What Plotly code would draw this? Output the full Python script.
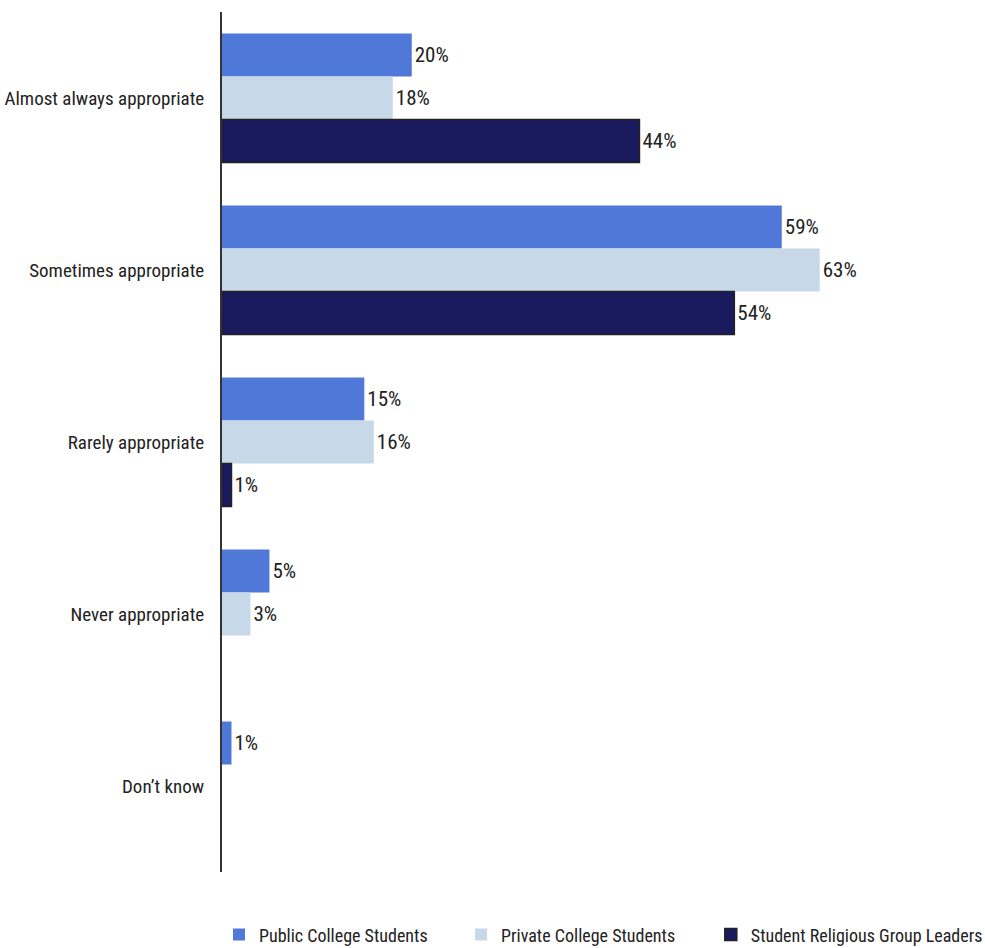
import plotly.graph_objects as go

categories = ["Almost always appropriate", "Sometimes appropriate", "Rarely appropriate",
              "Never appropriate", "Don\u2019t know"]
public_students = [20, 59, 15, 5, 1]
private_students = [18, 63, 16, 3, None]
religious_leaders = [44, 54, 1, None, None]

# name, values, fill, outline, outline width, legend id, legend x
series = [
    ("Public College Students", public_students, "#4F78D8", "#4F78D8", 0, "legend", -0.004),
    ("Private College Students", private_students, "#C7D9E8", "#C7D9E8", 0, "legend2", 0.315),
    ("Student Religious Group Leaders", religious_leaders, "#1A1A5E", "#222222", 1.5, "legend3", 0.644),
]

FONT = "Roboto Condensed, Liberation Sans Narrow, sans-serif"

fig = go.Figure()
legends = {}
for name, vals, color, line_color, lw, leg, lx in series:
    fig.add_trace(go.Bar(
        name=name,
        y=categories,
        x=vals,
        orientation="h",
        marker=dict(color=color, line=dict(color=line_color, width=lw)),
        text=[f"{v}%" if v is not None else "" for v in vals],
        textposition="outside",
        textfont=dict(family=FONT, size=21, color="#222222"),
        cliponaxis=False,
        legend=leg,
    ))
    legends[leg] = dict(
        orientation="h",
        x=lx, xanchor="left",
        y=-0.073, yanchor="middle",
        font=dict(family=FONT, size=18, color="#222222"),
        itemwidth=30,
        bgcolor="rgba(0,0,0,0)",
    )

fig.update_layout(
    width=985, height=948,
    barmode="group",
    bargap=0.25,
    bargroupgap=0,
    plot_bgcolor="white",
    paper_bgcolor="white",
    margin=dict(l=222, r=4, t=12, b=76, autoexpand=False),
    font=dict(family=FONT, size=19, color="#222222"),
    showlegend=True,
    xaxis=dict(range=[0, 80], visible=False, showgrid=False, zeroline=False),
    yaxis=dict(
        autorange="reversed",
        automargin=False,
        showline=True, linecolor="#333333", linewidth=2,
        ticks="", showgrid=False,
        ticklabelstandoff=12,
        tickfont=dict(family=FONT, size=19, color="#222222"),
    ),
    **legends,
)

fig.write_html("out.html")
